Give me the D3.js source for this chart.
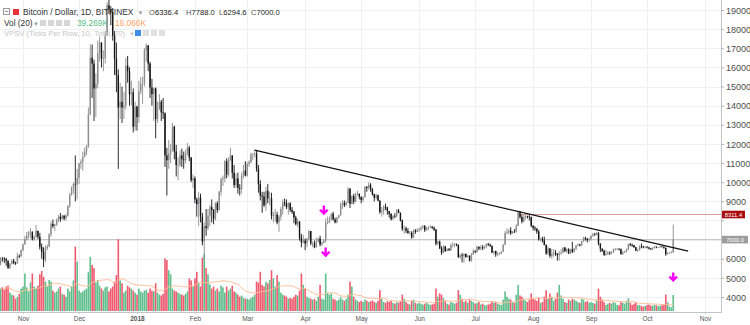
<!DOCTYPE html>
<html><head><meta charset="utf-8">
<script src="https://cdn.jsdelivr.net/npm/d3@7"></script>
<style>
html,body{margin:0;padding:0;background:#fff;overflow:hidden;}
svg{display:block;font-family:"Liberation Sans",Arial,sans-serif;}
</style></head><body>
<svg id="chart" width="750" height="325"></svg>
<script>
// ---------- DATA (BITFINEX BTC/USD, 1D, from 2017-10-20 to 2018-10-15) ----------
const startDate = "2017-10-20";
const firstOpen = 5700;
const closes = [
 6010,6000,5980,5900,5520,5740,5890,5780,5750,6150,6130,6460,
 6750,7030,7200,7380,7400,7020,7140,7460,7150,6620,6360,5950,6550,6630,7280,7820,7710,7790,8040,8200,8070,8250,8100,8250,8750,9320,9730,9910,9880,10230,
 10980,11070,11320,11590,11880,13540,16500,16200,14900,15150,16750,17300,16450,16480,17650,19250,19050,18900,17650,16450,15600,13900,14200,13900,14000,16100,15800,14600,14700,12900,13950,
 13400,14750,15150,15150,16900,17150,16200,14950,14600,14900,13300,13800,14200,13650,13600,11400,11150,11500,11700,12900,11600,10900,10900,11400,11200,11150,11500,11800,11300,10100,10200,
 9100,8850,9200,8200,6900,7700,7600,8250,8700,8550,8100,8900,8550,9500,10150,10200,11100,10400,11150,11400,10500,9850,10200,9700,9650,10350,10600,10350,
 10950,11050,11450,11500,11500,10700,9900,9300,9250,8800,9550,9150,9150,8250,8300,8300,7900,8200,8600,8950,8900,8700,8900,8550,8450,8150,7800,7950,7100,6850,6950,
 6800,7050,7450,6800,6800,6600,6900,7050,6750,6850,6950,7900,7900,8050,8350,8050,7900,8150,8270,8850,8920,8800,8940,9650,8870,9280,8980,9350,9400,9240,
 9070,9220,9750,9700,9860,9620,9370,9190,9320,9040,8440,8500,8720,8680,8490,8340,8060,8240,8230,8530,8400,8000,7560,7580,7460,7350,7360,7110,7470,7400,7500,
 7540,7640,7720,7500,7630,7650,7680,7620,7530,6790,6900,6550,6300,6640,6400,6500,6450,6710,6740,6760,6720,6080,6170,6140,6250,6090,6160,5900,6220,6400,
 6360,6620,6530,6600,6550,6620,6760,6720,6660,6320,6400,6230,6240,6260,6360,6740,7330,7380,7470,7330,7410,7400,7720,8420,8180,7950,8180,8230,8210,8180,7730,
 7620,7570,7420,7010,7040,6950,6720,6280,6540,6150,6250,6310,6250,6190,6270,6310,6580,6400,6500,6270,6490,6360,6530,6690,6740,6700,6910,7090,7040,6980,7020,
 7190,7270,7260,7360,6790,6520,6410,6200,6250,6320,6290,6330,6490,6490,6520,6500,6250,6340,6380,6490,6770,6720,6710,6600,6430,6450,6650,6630,6590,6630,
 6590,6530,6500,6580,6630,6590,6600,6640,6620,6570,6250,6290,6310,6336.4,7000.0
];
const highs = [
 6090,6080,6080,6050,5900,5770,5970,5990,5840,6310,6220,6470,
 6790,7200,7400,7450,7600,7440,7220,7770,7460,7350,6800,6600,6700,6750,7330,7950,8050,7830,8100,8280,8390,8300,8280,8350,8800,9450,9780,10000,11400,10700,
 11000,11200,11600,11800,11950,13900,17200,17200,16400,15700,17400,17600,17300,16900,17900,19400,19900,19200,19100,17900,17300,15900,15200,15000,14700,16500,16600,16000,15300,14900,14200,
 14000,15300,15500,15500,17000,17250,17100,16300,15400,14950,14950,14200,14600,14300,14400,13650,11800,12200,12000,13100,12950,11950,11300,11650,11750,11600,11700,12050,11900,11300,10400,
 10300,9200,9500,9400,8400,7900,8600,8600,8800,9100,8600,8950,9000,9550,10250,10350,11150,11250,11300,11800,11400,10900,10450,10500,9900,10500,10900,11100,
 11050,11150,11550,11500,11700,11650,10900,10100,9500,9500,9750,9900,9500,9450,8450,8600,8450,8300,8700,9100,9150,9100,8950,8950,8700,8500,8250,8100,7950,7300,7250,
 7050,7100,7500,7450,6900,6950,7100,7100,7200,6900,7000,8100,8200,8200,8400,8450,8150,8200,8300,8950,9050,9050,9000,9750,9700,9300,9400,9450,9550,9400,
 9250,9250,9800,9800,10000,9950,9700,9400,9400,9350,9050,8700,8800,8880,8720,8500,8380,8280,8380,8600,8600,8420,8050,7740,7680,7600,7450,7440,7530,7550,7600,
 7600,7700,7760,7750,7650,7700,7750,7700,7680,7550,6950,6950,6650,6700,6680,6550,6560,6790,6850,6820,6800,6750,6250,6300,6280,6280,6200,6170,6300,6520,
 6450,6680,6650,6700,6720,6690,6800,6830,6800,6700,6420,6420,6350,6330,6400,6750,7450,7580,7550,7650,7450,7550,7800,8500,8500,8300,8290,8290,8250,8280,8200,
 7750,7700,7600,7500,7100,7150,7150,6750,6640,6550,6500,6500,6450,6300,6400,6500,6600,6620,6550,6550,6520,6880,6560,6720,6800,6780,6930,7140,7150,7080,7100,
 7250,7350,7350,7400,7380,6800,6550,6480,6450,6400,6380,6400,6530,6560,6550,6550,6530,6400,6420,6540,6780,6820,6790,6720,6620,6530,6700,6800,6680,6670,
 6650,6620,6560,6600,6680,6640,6620,6680,6660,6640,6580,6340,6340,6400,7788.0
];
const lows = [
 5650,5850,5770,5630,5470,5450,5700,5710,5680,5740,6030,6100,
 6380,6730,6970,7050,7080,6960,6950,7090,7030,6480,6000,5560,5820,6450,6620,7150,7600,7450,7710,7900,7930,8050,8000,8000,8200,8670,9300,9400,9000,9100,
 9900,10700,10600,11300,11420,11800,13500,14400,13200,13400,14900,16300,16000,15800,16200,17700,18800,18200,17400,15600,14700,10700,13300,13100,13300,13800,15200,14000,14000,12600,12700,
 12700,13100,14600,14100,15000,16300,15800,14400,14000,13200,12300,13100,13800,13200,13300,10800,9300,10700,11000,11600,11200,10300,10100,10800,10800,10700,11000,11400,11100,10000,9700,
 8900,8200,7700,7900,6700,5950,7200,7500,7700,7900,7800,8000,8400,8500,9300,9800,10000,10200,10300,11100,10200,9700,9700,9400,9300,9400,10200,10300,
 10300,10800,11000,11150,11300,10550,9450,9050,8400,8700,8500,8900,8800,8050,7900,7950,7800,7400,8000,8300,8750,8600,8300,8450,8350,7850,7750,7650,6950,6600,6800,
 6450,6600,6950,6700,6600,6550,6600,6850,6650,6650,6800,6850,7800,7850,8000,8000,7850,7850,8100,8250,8600,8700,8750,8900,8650,8850,8850,8950,9300,9100,
 8900,8970,9200,9500,9620,9500,9300,9000,9100,9000,8350,8200,8300,8550,8300,8150,8000,8050,8120,8150,8380,7950,7450,7300,7350,7300,7250,7050,7080,7300,7400,
 7400,7450,7550,7400,7450,7500,7600,7550,7450,6700,6700,6500,6200,6300,6350,6400,6400,6400,6600,6600,6650,6050,6000,5800,5800,6050,6050,5850,5850,6200,
 6280,6300,6450,6450,6450,6500,6550,6670,6620,6300,6200,6100,6150,6200,6250,6350,6700,7280,7280,7250,7300,7350,7380,7700,8100,7850,7900,8050,8100,8000,7650,
 7480,7450,7300,6950,6900,6850,6700,6200,6200,6050,6000,6100,6150,5900,5900,6200,6300,6350,6300,6250,6250,6300,6320,6450,6650,6650,6650,6880,6950,6850,6900,
 6950,7150,7200,7230,6700,6350,6350,6150,6150,6200,6200,6230,6300,6420,6450,6430,6200,6200,6300,6330,6450,6650,6620,6570,6400,6350,6430,6550,6540,6550,
 6540,6480,6450,6460,6540,6550,6560,6570,6590,6520,6150,6200,6260,6280,6294.6
];
// volume, thousands of BTC
const volumes = [
 55,58,52,60,62,45,40,38,30,35,42,55,
 60,92,58,48,70,92,60,55,62,90,98,84,72,60,76,72,50,45,48,55,60,42,40,35,55,48,60,75,158,121,
 50,45,48,52,55,95,133,113,105,70,76,62,55,50,58,60,48,55,60,72,88,176,75,68,45,50,62,58,55,50,45,
 40,55,48,45,50,52,45,55,50,48,68,45,40,38,42,129,125,100,90,55,50,48,45,42,40,38,42,48,80,75,60,
 80,96,70,60,131,140,105,90,65,55,60,50,55,48,62,58,45,60,50,55,62,48,45,40,35,38,32,30,
 30,28,32,35,40,72,70,96,64,60,72,68,76,100,80,60,88,72,45,40,38,35,30,32,30,35,40,38,50,92,64,
 55,35,32,30,28,30,25,35,64,30,28,92,45,40,43,30,28,25,28,35,28,25,30,40,72,60,35,28,25,22,
 25,22,28,25,22,24,26,22,20,25,51,30,22,20,24,22,25,20,18,22,20,24,40,30,22,18,16,25,28,20,18,
 20,18,16,18,20,17,15,16,18,55,35,43,40,32,25,18,16,22,20,18,20,51,40,30,22,25,20,28,25,22,
 18,20,22,16,18,15,14,16,18,24,20,22,18,16,15,28,48,35,30,28,22,20,40,64,38,35,30,25,22,28,43,
 30,28,25,32,20,22,35,51,30,43,35,25,30,45,64,38,30,22,20,28,25,30,28,25,22,20,30,28,22,25,20,
 22,20,18,28,55,35,28,22,15,18,20,18,22,20,15,14,22,20,18,25,31,20,15,18,22,14,15,12,11,12,
 15,16,13,13,15,14,12,13,14,15,40,21,11,9,39.269
];
const maLength = 20;
const priceTicks = [4000,5000,6000,7000,8000,9000,10000,11000,12000,13000,14000,15000,16000,17000,18000,19000];
const monthTicks = ["2017-11-01","2017-12-01","2018-01-01","2018-02-01","2018-03-01","2018-04-01","2018-05-01","2018-06-01","2018-07-01","2018-08-01","2018-09-01","2018-10-01","2018-11-01"];
const monthLabels = ["Nov","Dec","2018","Feb","Mar","Apr","May","Jun","Jul","Aug","Sep","Oct","Nov"];
const trendLine = [["2018-03-05", 11680], ["2018-10-23", 6400]];
const resistanceFrom = "2018-07-25";
const resistancePrice = 8311.4;
const lastPrice = 7000.0;
const arrows = [["2018-04-11", 8545], ["2018-04-12", 6350], ["2018-10-15", 5050]];
const ohlcLegend = [["O","6336.4"],["H","7788.0"],["L","6294.6"],["C","7000.0"]];
const volLegend = ["39.269K","16.066K"];

// ---------- BUILD ----------
const parseDay = d3.utcParse("%Y-%m-%d");
const t0 = parseDay(startDate);
const bars = closes.map((c, i) => ({
  date: d3.utcDay.offset(t0, i),
  open: i === 0 ? firstOpen : closes[i - 1],
  high: highs[i], low: lows[i], close: c, vol: volumes[i]
}));
bars.forEach((b, i) => {
  const s = volumes.slice(Math.max(0, i - maLength + 1), i + 1);
  b.ma = d3.mean(s);
});

const W = 750, H = 325, plotR = 721, plotB = 312;
const svg = d3.select("#chart");
const x = d3.scaleUtc().domain([parseDay("2017-11-01"), parseDay("2018-11-01")]).range([23, 705]);
const y = d3.scaleLinear().domain([4000, 19000]).range([297, 10]);
const yv = d3.scaleLinear().domain([0, 180]).range([311, 237.6]);

svg.append("rect").attr("width", W).attr("height", H).attr("fill", "#fff");
svg.append("defs").append("clipPath").attr("id", "plot")
  .append("rect").attr("x", 0).attr("y", 0).attr("width", plotR).attr("height", plotB);

const plot = svg.append("g").attr("clip-path", "url(#plot)");

// grid
plot.append("g").selectAll("line.h").data(priceTicks).join("line")
  .attr("x1", 0).attr("x2", plotR)
  .attr("y1", d => Math.round(y(d)) + 0.5).attr("y2", d => Math.round(y(d)) + 0.5)
  .attr("stroke", "#eff0f3");
plot.append("g").selectAll("line.v").data(monthTicks).join("line")
  .attr("x1", d => Math.round(x(parseDay(d))) + 0.5).attr("x2", d => Math.round(x(parseDay(d))) + 0.5)
  .attr("y1", 0).attr("y2", plotB)
  .attr("stroke", "#eff0f3");

// legend (below candles)
const lg = svg.append("g").attr("font-size", "8.3px");
lg.append("rect").attr("x", 3.5).attr("y", 8.5).attr("width", 6).attr("height", 6).attr("fill", "none").attr("stroke", "#9a9a9a");
lg.append("line").attr("x1", 5).attr("x2", 8).attr("y1", 11.5).attr("y2", 11.5).attr("stroke", "#9a9a9a");
lg.append("rect").attr("x", 13).attr("y", 9).attr("width", 6).attr("height", 6).attr("fill", "#e8323a");
lg.append("text").attr("x", 23).attr("y", 15).attr("fill", "#333").text("Bitcoin / Dollar, 1D, BITFINEX");
lg.append("text").attr("x", 137.5).attr("y", 15).attr("fill", "#999").attr("font-size", "6px").text("▼");
const ohlcX = [149, 186, 219, 251];
ohlcLegend.forEach((d, i) => {
  const t = lg.append("text").attr("x", ohlcX[i]).attr("y", 15).attr("font-size", "7.6px");
  t.append("tspan").attr("fill", "#555").text(d[0]);
  t.append("tspan").attr("fill", "#222").text(d[1]);
});
lg.append("text").attr("x", 4).attr("y", 26).attr("fill", "#333").text("Vol (20)");
lg.append("text").attr("x", 33).attr("y", 25.5).attr("fill", "#999").attr("font-size", "6px").text("▼");
[40, 48, 56, 64].forEach(px => lg.append("rect").attr("x", px).attr("y", 20).attr("width", 6).attr("height", 6).attr("fill", "#d6d6d6"));
lg.append("text").attr("x", 77).attr("y", 26).attr("fill", "#55bb88").text(volLegend[0]);
lg.append("text").attr("x", 115).attr("y", 26).attr("fill", "#ffa163").text(volLegend[1]);
lg.append("text").attr("x", 4).attr("y", 36).attr("fill", "#c6c6c6").attr("font-size", "7.6px").text("VPSV (Ticks Per Row, 10, Total, 70)");
lg.append("text").attr("x", 129).attr("y", 35.5).attr("fill", "#c6c6c6").attr("font-size", "6px").text("▼");
lg.append("rect").attr("x", 135).attr("y", 30).attr("width", 6).attr("height", 6).attr("fill", "#3f8fe8");
[143, 151, 159].forEach(px => lg.append("rect").attr("x", px).attr("y", 30).attr("width", 6).attr("height", 6).attr("fill", "#e0e0e0"));

// price lines
plot.append("line").attr("x1", 0).attr("x2", plotR)
  .attr("y1", y(lastPrice)).attr("y2", y(lastPrice)).attr("stroke", "#c0c0c0").attr("stroke-width", 1);
plot.append("line").attr("x1", x(parseDay(resistanceFrom))).attr("x2", plotR)
  .attr("y1", y(resistancePrice)).attr("y2", y(resistancePrice)).attr("stroke", "#dc9a9a").attr("stroke-width", 1);

// volume
const bw = 1.6;
plot.append("g").selectAll("rect").data(bars).join("rect")
  .attr("x", d => x(d.date) - bw / 2).attr("width", bw)
  .attr("y", d => yv(d.vol)).attr("height", d => yv(0) - yv(d.vol))
  .attr("fill", d => d.close >= d.open ? "#5fbf8c" : "#ef5a6e");
plot.append("path").datum(bars)
  .attr("d", d3.line().x(d => x(d.date)).y(d => yv(d.ma)))
  .attr("fill", "none").attr("stroke", "#ffbf99").attr("stroke-width", 1);

// candles
const cg = plot.append("g");
const upCol = "#8d8d8d", dnCol = "#141414";
cg.selectAll("line").data(bars).join("line")
  .attr("x1", d => x(d.date)).attr("x2", d => x(d.date))
  .attr("y1", d => y(Math.max(d.high, d.open, d.close))).attr("y2", d => y(Math.min(d.low, d.open, d.close)))
  .attr("stroke", d => d.close >= d.open ? upCol : dnCol).attr("stroke-width", 0.9);
const cw = 1.4;
cg.selectAll("rect").data(bars).join("rect")
  .attr("x", d => x(d.date) - cw / 2).attr("width", cw)
  .attr("y", d => y(Math.max(d.open, d.close)))
  .attr("height", d => Math.max(0.6, Math.abs(y(d.open) - y(d.close))))
  .attr("fill", d => d.close >= d.open ? upCol : dnCol);

// trend line
plot.append("path").datum(trendLine)
  .attr("d", d3.line().x(d => x(parseDay(d[0]))).y(d => y(d[1])))
  .attr("fill", "none").attr("stroke", "#111").attr("stroke-width", 1.3);

// arrows
plot.append("g").selectAll("path").data(arrows).join("path")
  .attr("d", d => {
    const cx = x(parseDay(d[0])), cy = y(d[1]);
    return `M${cx},${cy - 4.5}L${cx},${cy + 3}M${cx - 3.8},${cy - 0.3}L${cx},${cy + 3.5}L${cx + 3.8},${cy - 0.3}`;
  })
  .attr("fill", "none").attr("stroke", "#ff00ff").attr("stroke-width", 2.4);

// axes borders
svg.append("line").attr("x1", plotR + 0.5).attr("x2", plotR + 0.5).attr("y1", 0).attr("y2", plotB + 1)
  .attr("stroke", "#c3c5c9");
svg.append("line").attr("x1", 0).attr("x2", plotR + 1).attr("y1", plotB + 0.5).attr("y2", plotB + 0.5)
  .attr("stroke", "#c3c5c9");

// right price axis (labels hidden where a price box covers them, as in the reference)
const boxes = [resistancePrice, lastPrice];
const ra = svg.append("g").attr("transform", `translate(${plotR},0)`)
  .call(d3.axisRight(y).tickValues(priceTicks).tickSize(3).tickPadding(2).tickFormat(d3.format("d")));
ra.select(".domain").remove();
ra.selectAll(".tick line").attr("stroke", "#b5b5b5");
ra.selectAll(".tick text").attr("fill", "#4e4e4e").attr("font-size", "9px").attr("font-family", "Liberation Sans, Arial, sans-serif")
  .attr("dy", "0.35em")
  .style("display", d => boxes.some(b => Math.abs(y(b) - y(d)) < 6.5) ? "none" : null);

// bottom time axis
const ba = svg.append("g").attr("transform", `translate(0,${plotB})`)
  .call(d3.axisBottom(x).tickValues(monthTicks.map(parseDay)).tickSize(2).tickPadding(2)
    .tickFormat((d, i) => monthLabels[i]));
ba.select(".domain").remove();
ba.selectAll(".tick line").attr("stroke", "#c3c5c9");
ba.selectAll(".tick text").attr("fill", "#555").attr("font-size", "6.5px")
  .attr("font-family", "Liberation Sans, Arial, sans-serif")
  .attr("font-weight", (d, i) => monthLabels[i] === "2018" ? "bold" : "normal");

// price labels on axis
function priceBox(v, fill, w) {
  const yy = y(v);
  svg.append("rect").attr("x", plotR + 1).attr("y", yy - 3.8).attr("width", w).attr("height", 7.6).attr("fill", fill);
  svg.append("text").attr("x", plotR + 1 + w / 2).attr("y", yy + 2.1).attr("text-anchor", "middle")
    .attr("fill", "#fff").attr("font-size", "5.8px").text(d3.format(".1f")(v));
}
priceBox(resistancePrice, "#a90d0d", 23);
priceBox(lastPrice, "#9d9d9d", 26);
</script>
</body></html>
